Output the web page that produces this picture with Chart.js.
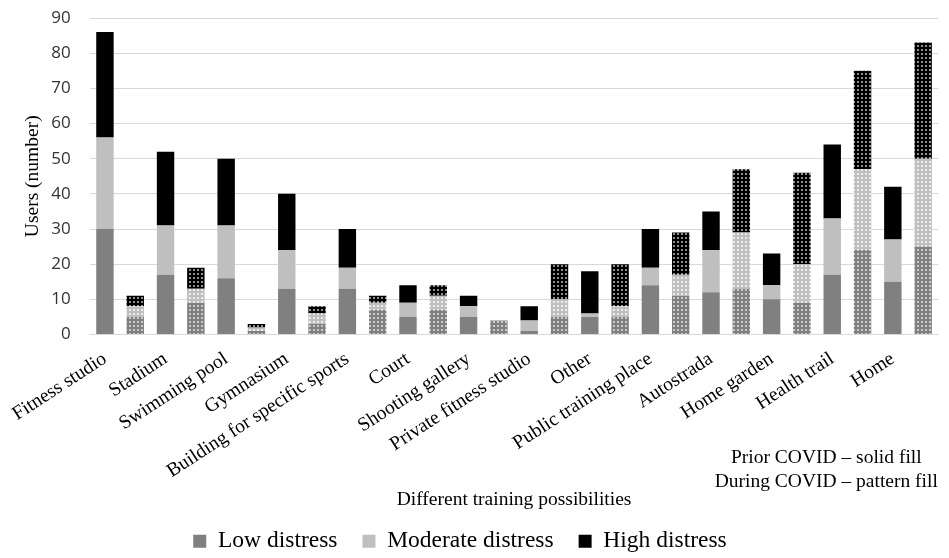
<!DOCTYPE html>
<html>
<head>
<meta charset="utf-8">
<title>Training possibilities</title>
<script src="https://cdn.jsdelivr.net/npm/chart.js@4.4.1/dist/chart.umd.min.js"></script>
<style>
  body { margin: 0; background: #fff; }
</style>
</head>
<body>
<canvas id="myChart" width="949" height="558"></canvas>
<script>
// one pair of bars per place: prior COVID (solid) then during COVID (pattern)
const categories = ['Fitness studio', 'Stadium', 'Swimming pool', 'Gymnasium', 'Building for specific sports', 'Court',
  'Shooting gallery', 'Private fitness studio', 'Other', 'Public training place', 'Autostrada', 'Home garden', 'Health trail', 'Home']

// prior COVID
const lowPrior  = [30, 17, 16, 13, 13, 5, 5, 1, 5, 14, 12, 10, 17, 15]
const modPrior  = [26, 14, 15, 11, 6, 4, 3, 3, 1, 5, 12, 4, 16, 12]
const highPrior = [30, 21, 19, 16, 11, 5, 3, 4, 12, 11, 11, 9, 21, 15]

// during COVID
const lowDuring  = [5, 9, 1, 3, 7, 7, 4, 5, 5, 11, 13, 9, 24, 25]
const modDuring  = [3, 4, 1, 3, 2, 4, 0, 5, 3, 6, 16, 11, 23, 25]
const highDuring = [3, 6, 1, 2, 2, 3, 0, 10, 12, 12, 18, 26, 28, 33]

const seriesNames = ['Low distress', 'Moderate distress', 'High distress']
const seriesColors = ['#808080', '#bfbfbf', '#000000']
const dotColors = ['#c9c9c9', '#ececec', '#8f8f8f']

const noteLines = ['Prior COVID \u2013 solid fill', 'During COVID \u2013 pattern fill']

// prior, during, prior, during ...
const pair = (a, b) => a.flatMap((v, i) => [v, b[i]])
const labels = pair(categories, categories)

const makeDots = (base, dot) => {
  const c = document.createElement('canvas')
  c.width = 4
  c.height = 4
  const g = c.getContext('2d')
  g.fillStyle = base
  g.fillRect(0, 0, 4, 4)
  g.fillStyle = dot
  g.fillRect(1, 1, 2, 2)
  return g.createPattern(c, 'repeat')
}

const serif = 'Liberation Serif'
const seriesData = [pair(lowPrior, lowDuring), pair(modPrior, modDuring), pair(highPrior, highDuring)]

const datasets = seriesNames.map((name, k) => {
  const dots = makeDots(seriesColors[k], dotColors[k])
  return {
    label: name,
    data: seriesData[k],
    backgroundColor: (c) => c.dataIndex % 2 === 1 ? dots : seriesColors[k],
    borderWidth: 0
  }
})

// small note at the lower right
const notesPlugin = {
  id: 'notes',
  afterDraw(chart) {
    const ctx = chart.ctx
    const x = chart.chartArea.right - 112
    ctx.save()
    ctx.font = '19.5px "' + serif + '"'
    ctx.fillStyle = '#000'
    ctx.textAlign = 'center'
    ctx.textBaseline = 'middle'
    ctx.fillText(noteLines[0], x, 458)
    ctx.fillText(noteLines[1], x, 482)
    ctx.restore()
  }
}

const ctx = document.getElementById('myChart').getContext('2d')
const myChart = new Chart(ctx, {
  type: 'bar',
  data: { labels: labels, datasets: datasets },
  options: {
    responsive: false,
    animation: false,
    events: [],
    layout: { padding: { top: 18, right: 9, bottom: -5, left: -20 } },
    datasets: { bar: { categoryPercentage: 1, barPercentage: 0.575 } },
    scales: {
      x: {
        stacked: true,
        grid: { display: false, drawTicks: false },
        border: { display: true, color: '#d9d9d9' },
        ticks: {
          autoSkip: false,
          minRotation: 33,
          maxRotation: 33,
          padding: 13,
          color: '#000',
          font: { family: serif, size: 19.5 },
          callback: (v, i) => i % 2 === 0 ? categories[i / 2] : ''
        },
        title: {
          display: true,
          text: 'Different training possibilities',
          color: '#000',
          font: { family: serif, size: 19.5 },
          padding: { top: 0, bottom: -7 }
        },
        afterFit: (s) => { s.height = 170 }
      },
      y: {
        stacked: true,
        min: 0,
        max: 90,
        ticks: { stepSize: 10, padding: 19, color: '#333', font: { family: 'Open Sans', size: 17 } },
        grid: { color: '#d9d9d9', drawTicks: false },
        border: { display: false },
        title: {
          display: true,
          text: 'Users (number)',
          color: '#000',
          font: { family: serif, size: 19.5 },
          padding: { top: 38 }
        },
        afterFit: (s) => {
          s.width = 107
          s.paddingTop = 0
          s.paddingBottom = 0
        }
      }
    },
    plugins: {
      legend: {
        position: 'bottom',
        labels: { boxWidth: 13, boxHeight: 13, padding: 25, color: '#000', font: { family: serif, size: 23.5 } }
      },
      tooltip: { enabled: false }
    }
  },
  plugins: [notesPlugin]
})
</script>
</body>
</html>
